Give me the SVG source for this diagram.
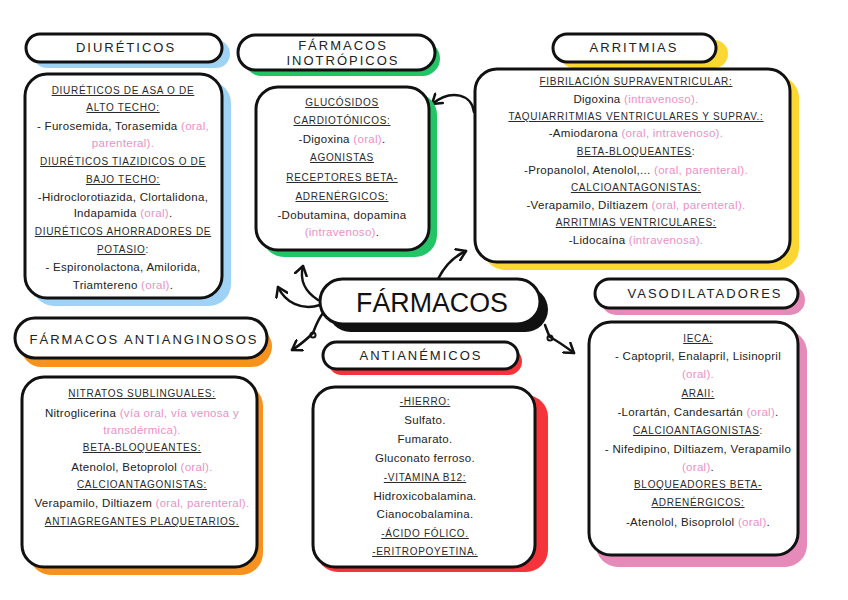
<svg xmlns="http://www.w3.org/2000/svg" width="848" height="600" viewBox="0 0 848 600">
<defs>
<style>
.box{fill:#fff;stroke:#111;stroke-width:3}
.ttl{font-family:"Liberation Sans",Arial,sans-serif;font-size:13px;letter-spacing:2px;fill:#222;text-anchor:middle}
.h{font-family:"Liberation Sans",Arial,sans-serif;font-size:10px;letter-spacing:0.7px;fill:#2a2a2a;text-anchor:middle}
.u{text-decoration:underline}
.t{font-family:"Liberation Sans",Arial,sans-serif;font-size:11.5px;letter-spacing:0.3px;fill:#222;text-anchor:middle}
.p{fill:#ee8fc6}
.con{fill:none;stroke:#111;stroke-width:2.5;stroke-linecap:round}
</style>
<marker id="ah" viewBox="-10 -7 12 14" markerWidth="12" markerHeight="14" refX="0" refY="0" orient="auto" markerUnits="userSpaceOnUse">
<path d="M-9,-6 L0,0 L-9,6" fill="none" stroke="#111" stroke-width="2.5" stroke-linecap="round" stroke-linejoin="round"/>
</marker>
</defs>
<rect width="848" height="600" fill="#fff"/>

<g id="connectors">
<path class="con" d="M318,300 C306,292 299,282 303,266" marker-end="url(#ah)"/>
<path class="con" d="M320,305 C301,311 285,302 278,287" marker-end="url(#ah)"/>
<path class="con" d="M323,313 C317,321 315,328 313,333 C306,340 300,345 292,350" marker-end="url(#ah)"/>
<circle cx="313" cy="335" r="2.5" fill="none" stroke="#111" stroke-width="2"/>
<path class="con" d="M438,279 C445,265 455,256 466,251" marker-end="url(#ah)"/>
<path class="con" d="M545,325 C547,330 548,334 550,337 C559,342 566,347 574,353" marker-end="url(#ah)"/>
<circle cx="550" cy="338" r="2.5" fill="none" stroke="#111" stroke-width="2"/>
<path class="con" d="M474,112 C472,95 452,88 432,104" marker-end="url(#ah)"/>
</g>

<g id="central">
<rect x="328" y="287" width="220" height="45" rx="22.5" fill="#111"/>
<rect class="box" x="320" y="279" width="220" height="45" rx="22.5"/>
<text x="432" y="312" font-family="'Liberation Sans',Arial,sans-serif" font-size="27" fill="#111" text-anchor="middle" textLength="152" lengthAdjust="spacingAndGlyphs">FÁRMACOS</text>
</g>

<g id="diureticos-title">
<rect x="33" y="40" width="197" height="28" rx="14" fill="#9ed3f6"/>
<rect class="box" x="26" y="34" width="196" height="28" rx="14"/>
<text class="ttl" x="126" y="52">DIURÉTICOS</text>
</g>
<g id="diureticos">
<rect x="32" y="81" width="199" height="225" rx="22" fill="#9ed3f6"/>
<rect class="box" x="25" y="74" width="197" height="224" rx="22"/>
<text class="h u" x="123" y="94">DIURÉTICOS DE ASA O DE</text>
<text class="h u" x="123" y="111">ALTO TECHO:</text>
<text class="t" x="123" y="130">- Furosemida, Torasemida <tspan class="p">(oral,</tspan></text>
<text class="t p" x="123" y="147">parenteral).</text>
<text class="h u" x="123" y="165">DIURÉTICOS TIAZIDICOS O DE</text>
<text class="h u" x="123" y="183">BAJO TECHO:</text>
<text class="t" x="123" y="201">-Hidroclorotiazida, Clortalidona,</text>
<text class="t" x="123" y="217">Indapamida <tspan class="p">(oral)</tspan>.</text>
<text class="h u" x="123" y="235">DIURÉTICOS AHORRADORES DE</text>
<text class="h" x="123" y="253"><tspan class="u">POTASIO</tspan>:</text>
<text class="t" x="123" y="271">- Espironolactona, Amilorida,</text>
<text class="t" x="123" y="289">Triamtereno <tspan class="p">(oral)</tspan>.</text>
</g>

<g id="inotropicos-title">
<rect x="244" y="41" width="196" height="35" rx="17.5" fill="#22c466"/>
<rect class="box" x="238" y="35" width="197" height="35" rx="17.5"/>
<text class="ttl" x="343" y="50">FÁRMACOS</text>
<text class="ttl" x="343" y="65">INOTRÓPICOS</text>
</g>
<g id="inotropicos">
<rect x="262" y="93" width="175" height="164" rx="22" fill="#22c466"/>
<rect class="box" x="256" y="87" width="173" height="163" rx="22"/>
<text class="h u" x="342" y="106">GLUCÓSIDOS</text>
<text class="h u" x="342" y="124">CARDIOTÓNICOS:</text>
<text class="t" x="342" y="143">-Digoxina <tspan class="p">(oral)</tspan>.</text>
<text class="h u" x="342" y="161">AGONISTAS</text>
<text class="h u" x="342" y="181">RECEPTORES BETA-</text>
<text class="h u" x="342" y="200">ADRENÉRGICOS:</text>
<text class="t" x="342" y="219">-Dobutamina, dopamina</text>
<text class="t" x="342" y="236"><tspan class="p">(intravenoso)</tspan>.</text>
</g>

<g id="arritmias-title">
<rect x="560" y="40" width="168" height="28" rx="14" fill="#fcd631"/>
<rect class="box" x="553" y="34" width="163" height="28" rx="14"/>
<text class="ttl" x="634" y="52">ARRITMIAS</text>
</g>
<g id="arritmias">
<rect x="483" y="76" width="316" height="194" rx="22" fill="#fcd631"/>
<rect class="box" x="475" y="69" width="315" height="193" rx="22"/>
<text class="h u" x="636" y="85">FIBRILACIÓN SUPRAVENTRICULAR:</text>
<text class="t" x="636" y="103">Digoxina <tspan class="p">(intravenoso).</tspan></text>
<text class="h u" x="636" y="120">TAQUIARRITMIAS VENTRICULARES Y SUPRAV.:</text>
<text class="t" x="636" y="137">-Amiodarona <tspan class="p">(oral, intravenoso).</tspan></text>
<text class="h" x="636" y="155"><tspan class="u">BETA-BLOQUEANTES</tspan>:</text>
<text class="t" x="636" y="174">-Propanolol, Atenolol,... <tspan class="p">(oral, parenteral).</tspan></text>
<text class="h u" x="636" y="191">CALCIOANTAGONISTAS:</text>
<text class="t" x="636" y="209">-Verapamilo, Diltiazem <tspan class="p">(oral, parenteral).</tspan></text>
<text class="h u" x="636" y="226">ARRITMIAS VENTRICULARES:</text>
<text class="t" x="636" y="244">-Lidocaína <tspan class="p">(intravenosa).</tspan></text>
</g>

<g id="antianginosos-title">
<rect x="21" y="326" width="251" height="41" rx="20.5" fill="#f7921e"/>
<rect class="box" x="15" y="318" width="252" height="40" rx="20"/>
<text class="ttl" x="144" y="344" letter-spacing="1.6">FÁRMACOS ANTIANGINOSOS</text>
</g>
<g id="antianginosos">
<rect x="29" y="384" width="234" height="191" rx="22" fill="#f7921e"/>
<rect class="box" x="22" y="377" width="235" height="190" rx="22"/>
<text class="h u" x="142" y="397">NITRATOS SUBLINGUALES:</text>
<text class="t" x="142" y="417">Nitroglicerina <tspan class="p">(vía oral, vía venosa y</tspan></text>
<text class="t p" x="142" y="434">transdérmica).</text>
<text class="h u" x="142" y="451">BETA-BLOQUEANTES:</text>
<text class="t" x="142" y="471">Atenolol, Betoprolol <tspan class="p">(oral).</tspan></text>
<text class="h u" x="142" y="488">CALCIOANTAGONISTAS:</text>
<text class="t" x="142" y="507">Verapamilo, Diltiazem <tspan class="p">(oral, parenteral).</tspan></text>
<text class="h u" x="142" y="525">ANTIAGREGANTES PLAQUETARIOS.</text>
</g>

<g id="antianemicos-title">
<rect x="328" y="348" width="194" height="27" rx="13.5" fill="#f5333a"/>
<rect class="box" x="323" y="342" width="195" height="27" rx="13.5"/>
<text class="ttl" x="421" y="360">ANTIANÉMICOS</text>
</g>
<g id="antianemicos">
<rect x="316" y="395" width="232" height="177" rx="22" fill="#f5333a"/>
<rect class="box" x="313" y="387" width="222" height="180" rx="22"/>
<text class="h u" x="425" y="405">-HIERRO:</text>
<text class="t" x="425" y="424" font-size="12">Sulfato.</text>
<text class="t" x="425" y="443" font-size="12">Fumarato.</text>
<text class="t" x="425" y="462" font-size="12">Gluconato ferroso.</text>
<text class="h u" x="425" y="481">-VITAMINA B12:</text>
<text class="t" x="425" y="500" font-size="12">Hidroxicobalamina.</text>
<text class="t" x="425" y="518" font-size="12">Cianocobalamina.</text>
<text class="h u" x="425" y="537">-ÁCIDO FÓLICO.</text>
<text class="h u" x="425" y="555">-ERITROPOYETINA.</text>
</g>

<g id="vasodilatadores-title">
<rect x="601" y="285" width="204" height="30" rx="15" fill="#e68bb9"/>
<rect class="box" x="595" y="279" width="203" height="29" rx="14.5"/>
<text class="ttl" x="705" y="298">VASODILATADORES</text>
</g>
<g id="vasodilatadores">
<rect x="596" y="330" width="211" height="237" rx="22" fill="#e68bb9"/>
<rect class="box" x="589" y="322" width="209" height="233" rx="22"/>
<text class="h u" x="698" y="342">IECA:</text>
<text class="t" x="698" y="360">- Captopril, Enalapril, Lisinopril</text>
<text class="t p" x="698" y="378">(oral).</text>
<text class="h u" x="698" y="397">ARAII:</text>
<text class="t" x="698" y="416">-Lorartán, Candesartán <tspan class="p">(oral)</tspan>.</text>
<text class="h" x="698" y="434"><tspan class="u">CALCIOANTAGONISTAS</tspan>:</text>
<text class="t" x="698" y="453">- Nifedipino, Diltiazem, Verapamilo</text>
<text class="t" x="698" y="471"><tspan class="p">(oral)</tspan>.</text>
<text class="h u" x="698" y="488">BLOQUEADORES BETA-</text>
<text class="h u" x="698" y="506">ADRENÉRGICOS:</text>
<text class="t" x="698" y="526">-Atenolol, Bisoprolol <tspan class="p">(oral)</tspan>.</text>
</g>
</svg>
